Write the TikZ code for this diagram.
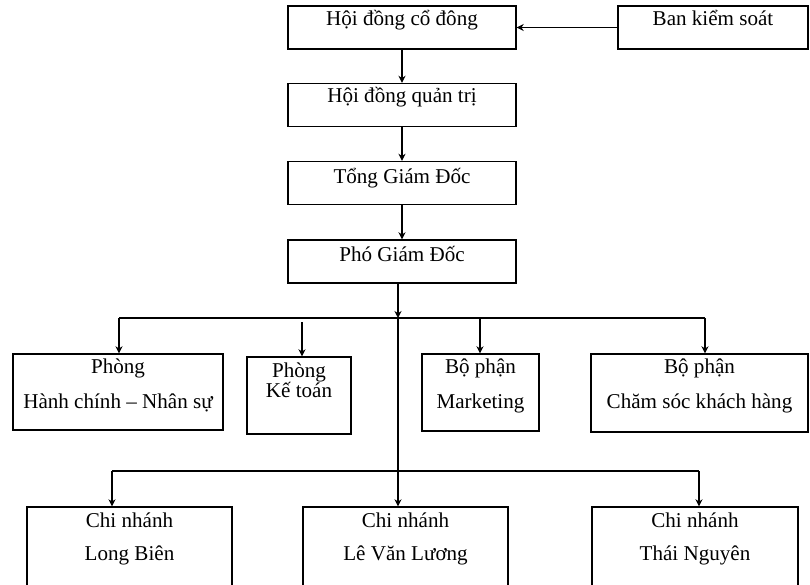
\documentclass[tikz,border=0pt]{standalone}
\usepackage{fontspec}
\setmainfont{Liberation Serif}
\usetikzlibrary{arrows.meta}

\begin{document}
\begin{tikzpicture}[
  x=0.02cm, y=-0.02cm,
  box/.style={draw, line width=0.8pt, minimum height=0.86cm, inner sep=0pt},
  lbl/.style={anchor=base, inner sep=0pt, font=\fontsize{12}{14}\selectfont},
  arr/.style={-{Stealth[length=4pt, width=4pt]}, line width=0.6pt},
  bus/.style={line width=0.6pt}
]
\clip (0,0) rectangle (810,584);

% --- Top: management chain ---
\node[box, minimum width=4.56cm] (hdcd) at (402,27.5) {};
\node[box, minimum width=3.8cm]  (bks)  at (713,27.5) {};
\node[box, minimum width=4.56cm] (hdqt) at (402,105)  {};
\node[box, minimum width=4.56cm] (tgd)  at (402,183)  {};
\node[box, minimum width=4.56cm] (pgd)  at (402,261.5) {};

\node[lbl] (hdcd-t) at (402,26)    {Hội đồng cổ đông};
\node[lbl] (bks-t)  at (713,26)    {Ban kiểm soát};
\node[lbl] (hdqt-t) at (402,103)   {Hội đồng quản trị};
\node[lbl] (tgd-t)  at (402,183)   {Tổng Giám Đốc};
\node[lbl] (pgd-t)  at (402,261.5) {Phó Giám Đốc};

% --- Departments ---
\node[box, minimum width=4.2cm,  minimum height=1.52cm] (hcns) at (118,392)   {};
\node[box, minimum width=2.08cm, minimum height=1.54cm] (kt)   at (299,395.5) {};
\node[box, minimum width=2.34cm, minimum height=1.54cm] (mkt)  at (480.5,392.5) {};
\node[box, minimum width=4.34cm, minimum height=1.56cm] (cskh) at (699.5,393) {};

\node[lbl] (hcns-a) at (118,373)   {Phòng};
\node[lbl] (hcns-b) at (118,408)   {Hành chính – Nhân sự};
\node[lbl] (kt-a)   at (299,377)   {Phòng};
\node[lbl] (kt-b)   at (299,397)   {Kế toán};
\node[lbl] (mkt-a)  at (480.5,373) {Bộ phận};
\node[lbl] (mkt-b)  at (480.5,408) {Marketing};
\node[lbl] (cskh-a) at (699.5,373) {Bộ phận};
\node[lbl] (cskh-b) at (699.5,408) {Chăm sóc khách hàng};

% --- Branches ---
\node[box, minimum width=4.1cm,  minimum height=1.8cm] (lb)  at (129.5,552) {};
\node[box, minimum width=4.1cm,  minimum height=1.8cm] (lvl) at (405.5,552) {};
\node[box, minimum width=4.12cm, minimum height=1.8cm] (tn)  at (695,552)   {};

\node[lbl] (lb-a)  at (129.5,527) {Chi nhánh};
\node[lbl] (lb-b)  at (129.5,560) {Long Biên};
\node[lbl] (lvl-a) at (405.5,527) {Chi nhánh};
\node[lbl] (lvl-b) at (405.5,560) {Lê Văn Lương};
\node[lbl] (tn-a)  at (695,527)   {Chi nhánh};
\node[lbl] (tn-b)  at (695,560)   {Thái Nguyên};

% --- Bus points ---
\coordinate (b1)  at (398,318);
\coordinate (b1w) at (119,318);
\coordinate (b1m) at (480,318);
\coordinate (b1e) at (705,318);
\coordinate (ktw) at (302,322);
\coordinate (b2w) at (112,471);
\coordinate (b2e) at (699,471);

% --- Connectors ---
\draw[arr] (bks) -- (hdcd);
\draw[arr] (hdcd.south) -- (hdqt.north);
\draw[arr] (hdqt.south) -- (tgd.north);
\draw[arr] (tgd.south) -- (pgd.north);
\draw[arr] (b1 |- pgd.south) -- (b1);

\draw[bus] (b1w) -- (b1e);
\draw[arr] (b1w) -- (b1w |- hcns.north);
\draw[arr] (ktw) -- (ktw |- kt.north);
\draw[arr] (b1m) -- (b1m |- mkt.north);
\draw[arr] (b1e) -- (b1e |- cskh.north);

\draw[arr] (b1) -- (b1 |- lvl.north);
\draw[bus] (b2w) -- (b2e);
\draw[arr] (b2w) -- (b2w |- lb.north);
\draw[arr] (b2e) -- (b2e |- tn.north);

\end{tikzpicture}
\end{document}
